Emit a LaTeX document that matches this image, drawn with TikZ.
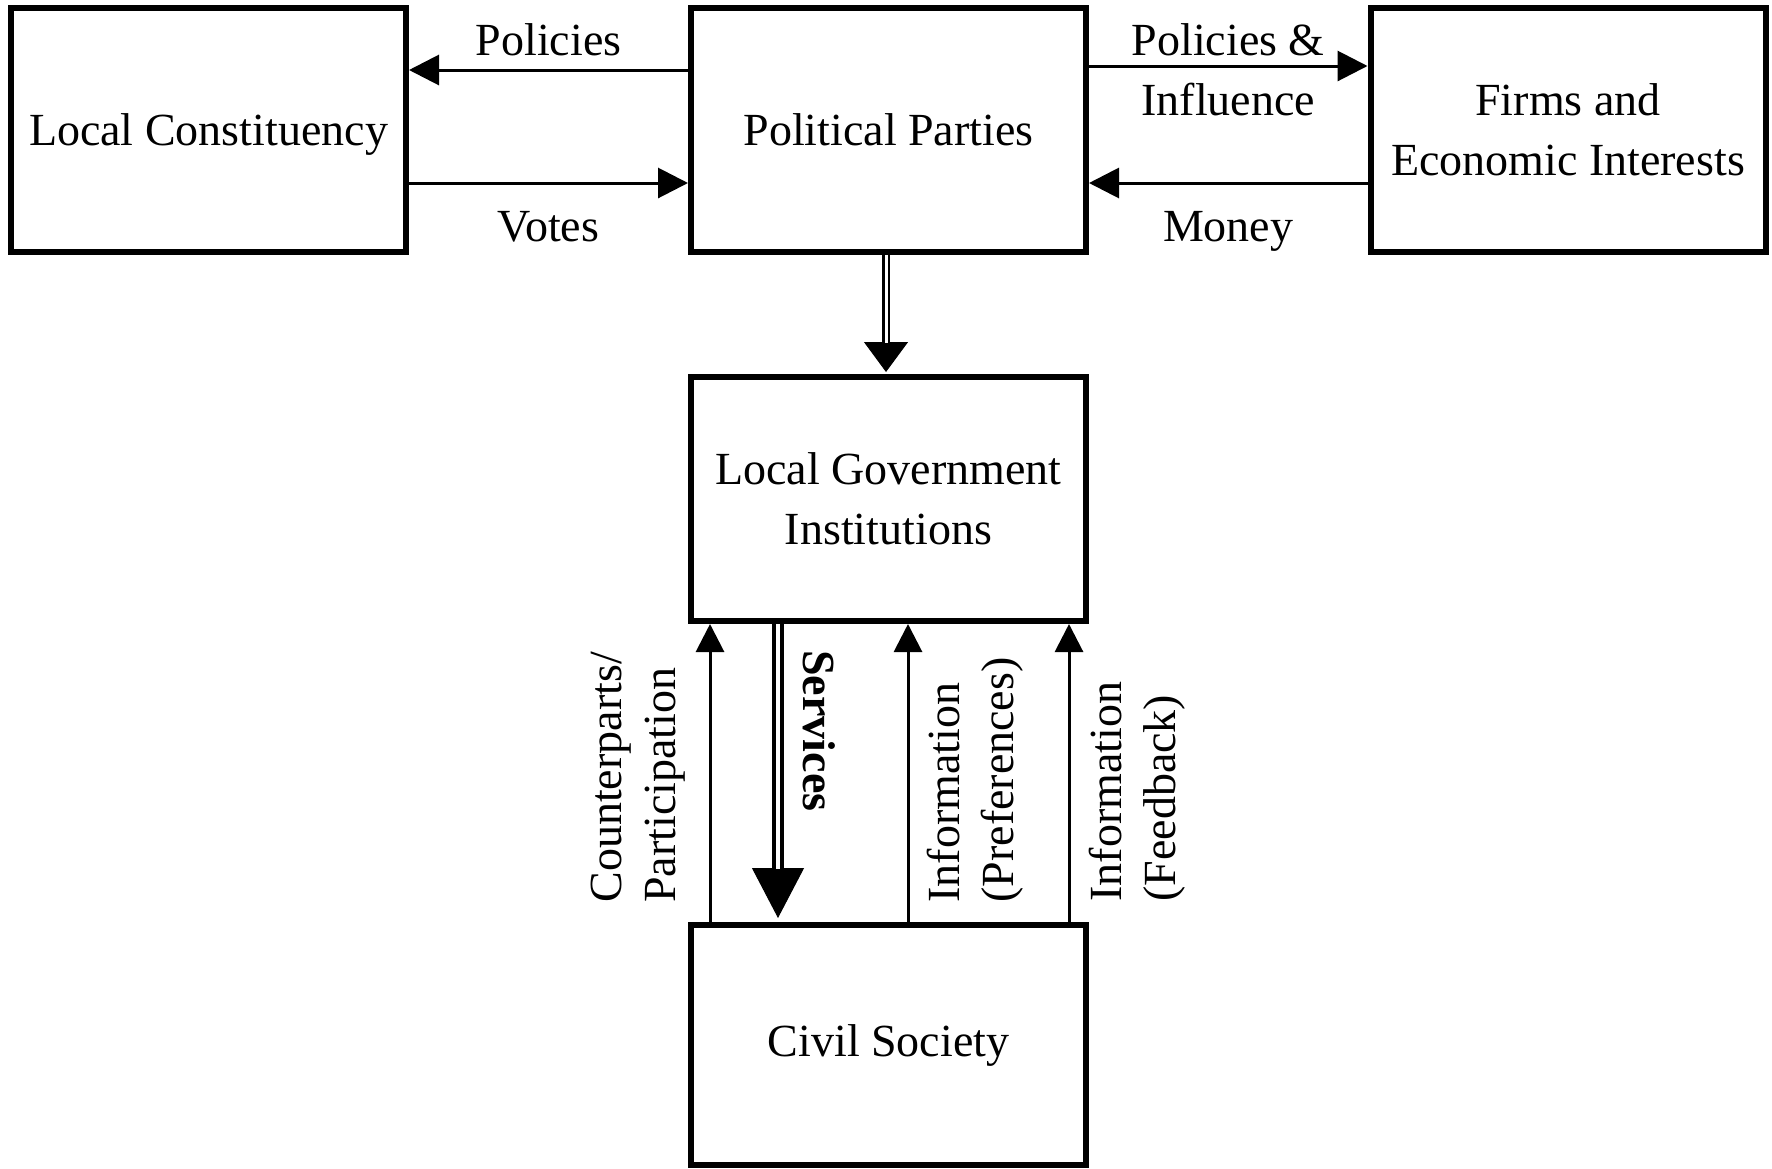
\documentclass[tikz,border=0pt]{standalone}
\usepackage{fontspec}
\setmainfont{Liberation Serif}
\usetikzlibrary{arrows.meta}
\tikzset{
  box/.style={draw, line width=3pt, minimum width=197.5pt, minimum height=122pt,
    inner sep=0pt, align=center, font=\fontsize{23}{30}\selectfont},
  lbl/.style={inner sep=0pt, align=center, font=\fontsize{23}{30}\selectfont},
  rotlbl/.style={inner sep=0pt, align=left, font=\fontsize{23}{27}\selectfont},
  flow/.style={line width=1.5pt, -{Triangle[length=15pt,width=15pt]}},
  upflow/.style={line width=1.5pt, -{Triangle[length=14pt,width=14pt]}},
  thinline/.style={double, line width=1.25pt, double distance=1.5pt},
  thickline/.style={double, line width=2pt, double distance=2pt},
}
\begin{document}
\begin{tikzpicture}[x=0.5pt, y=-0.5pt]
\useasboundingbox (0,0) rectangle (1772,1168);
% boxes
\node[box, text depth=0pt] (lc) at (208.5,130) {Local Constituency};
\node[box] (pp) at (888.5,130) {Political Parties};
\node[box] (fi) at (1568,130) {Firms and\\Economic Interests};
\node[box] (lg) at (888.5,499) {Local Government\\Institutions};
\node[box, minimum height=120pt] (cs) at (888.5,1045) {Civil Society};

% top row
\draw[flow] ([yshift=30pt]pp.west) -- node[lbl, anchor=base, yshift=7.5pt] {Policies} ([yshift=30pt]lc.east);
\draw[flow] ([yshift=-26.5pt]lc.east) -- node[lbl, anchor=base, yshift=-29pt] {Votes} ([yshift=-26.5pt]pp.west);
\draw[flow] ([yshift=32pt]pp.east) -- node[lbl, yshift=-2pt] {Policies \&\\Influence} ([yshift=32pt]fi.west);
\draw[flow] ([yshift=-26.5pt]fi.west) -- node[lbl, anchor=base, yshift=-29pt] {Money} ([yshift=-26.5pt]pp.east);

% parties to government
\draw[line width=0.5pt, -{Triangle[length=15pt,width=22pt]}] ([xshift=-1.25pt]pp.south) -- ([xshift=-1.25pt,yshift=1pt]lg.north);
\draw[thinline, shorten >=14.6pt] ([xshift=-1.25pt]pp.south) -- ([xshift=-1.25pt,yshift=1pt]lg.north);

% government and civil society
\draw[line width=0.5pt, -{Triangle[length=25pt,width=26pt]}] ([xshift=-55.25pt]lg.south) -- ([xshift=-55.25pt,yshift=2pt]cs.north);
\draw[thickline, shorten >=24.6pt] ([xshift=-55.25pt]lg.south) -- ([xshift=-55.25pt,yshift=2pt]cs.north);
\draw[upflow] ([xshift=-89.25pt]cs.north) -- ([xshift=-89.25pt]lg.south);
\draw[upflow] ([xshift=9.75pt]cs.north) -- ([xshift=9.75pt]lg.south);
\draw[upflow] ([xshift=90.25pt]cs.north) -- ([xshift=90.25pt]lg.south);

\node[rotlbl, rotate=90, anchor=south west] (cplbl) at (686,903) {Counterparts/\\Participation};
\node[lbl, rotate=-90, anchor=south west, font=\bfseries\fontsize{23}{30}\selectfont] (svlbl) at (803,650) {Services};
\node[rotlbl, rotate=90, anchor=north west] (iplbl) at (927,903) {Information\\(Preferences)};
\node[rotlbl, rotate=90, anchor=north west] (iflbl) at (1089,902) {Information\\(Feedback)};
\end{tikzpicture}
\end{document}
